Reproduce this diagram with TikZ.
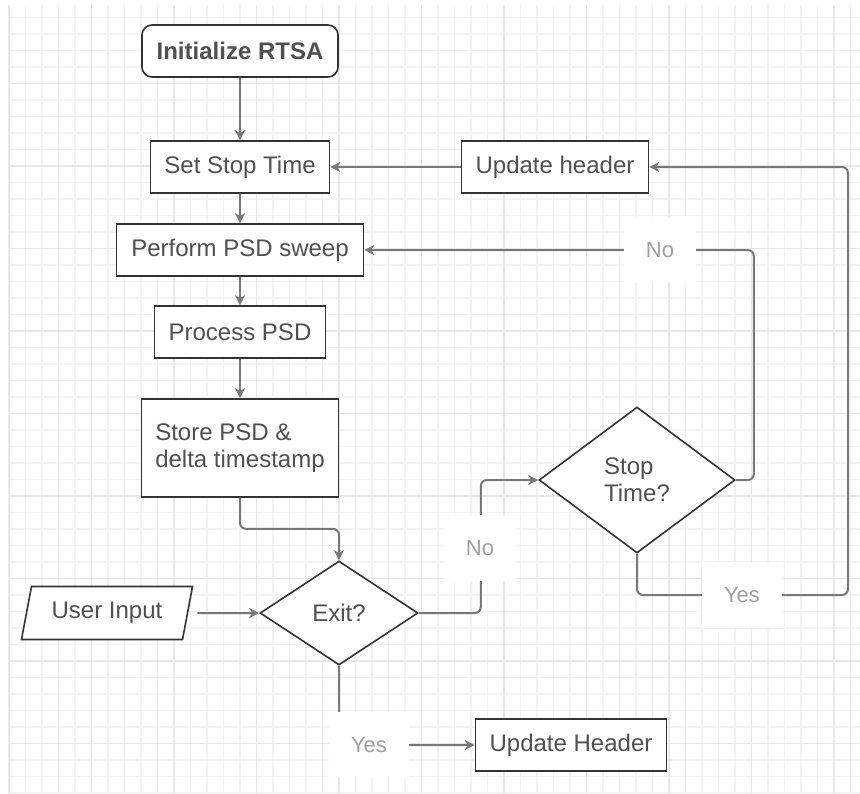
\documentclass[tikz,border=0pt]{standalone}
\usepackage{fontspec}
\setmainfont{Liberation Sans}
\usepackage{xcolor}
\usepackage{tikz}
\usetikzlibrary{shapes,arrows.meta,positioning,calc}
\definecolor{gridminor}{RGB}{243,243,243}
\definecolor{gridmajor}{RGB}{232,232,232}
\definecolor{boxline}{RGB}{51,51,51}
\definecolor{nodetext}{RGB}{80,80,80}
\definecolor{linegray}{RGB}{120,120,120}
\definecolor{labeltext}{RGB}{160,160,160}

\begin{document}
\begin{tikzpicture}[
    x=0.5pt, y=-0.5pt,
    font=\fontsize{12}{13.5}\selectfont,
    procbox/.style={rectangle, draw=boxline, line width=0.8pt, fill=white, text=nodetext, minimum height=26pt, inner sep=2pt},
    startbox/.style={procbox, rounded corners=5pt, minimum width=98pt},
    decision/.style={diamond, draw=boxline, line width=0.8pt, fill=white, text=nodetext, inner sep=0pt},
    inputbox/.style={trapezium, trapezium left angle=74, trapezium right angle=106, trapezium stretches body, draw=boxline, line width=0.8pt, fill=white, text=nodetext, minimum width=85.5pt, minimum height=26.5pt},
    lbl/.style={fill=white, text=labeltext, font=\fontsize{11}{13}\selectfont, inner xsep=11pt, minimum height=33pt},
    arrow/.style={-{Stealth[length=5pt, width=5pt, inset=1.5pt]}, line width=1pt, draw=linegray, rounded corners=3pt}
]
    \useasboundingbox (0,0) rectangle (860,793);

    % background grid
    \begin{scope}[shift={(9,1)}]
        \clip (-1,4) rectangle (851,792);
        \draw[gridminor, line width=0.8pt, step=8.25pt] (-1,4) grid (851,792);
        \draw[gridmajor, line width=0.8pt, step=41.25pt] (-1,4) grid (851,792);
    \end{scope}

    % main column
    \node[startbox] (init) at (240,51) {\textbf{Initialize RTSA}};
    \node[procbox, minimum width=89.5pt] (setstop) at (240,167) {Set Stop Time};
    \node[procbox, minimum width=93.5pt] (updhdr) at (555,167) {Update header};
    \node[procbox, minimum width=123.5pt] (sweep) at (240,250) {Perform PSD sweep};
    \node[procbox, minimum width=85.5pt] (process) at (240,332) {Process PSD};
    \node[procbox, minimum width=98.5pt, minimum height=49pt, align=left] (store) at (240,448) {Store PSD \&\\delta timestamp};

    % decisions
    \node[decision, minimum width=79pt, minimum height=52pt] (exit) at (339,613) {Exit?};
    \node[decision, minimum width=98pt, minimum height=73pt, align=left] (stoptime) at (637,480) {Stop\\Time?};
    \node[inputbox] (user) at (107,613) {User Input};
    \node[procbox, minimum width=95.5pt] (updhdrend) at (571,745) {Update Header};

    \coordinate (rightturn) at (848,595);

    \draw[arrow] (init) -- (setstop);
    \draw[arrow] (setstop) -- (sweep);
    \draw[arrow] (sweep) -- (process);
    \draw[arrow] (process) -- (store);
    \draw[arrow] (store.south) -- ++(0,31) -| (exit.north);
    \draw[arrow] (updhdr) -- (setstop);
    \draw[arrow, shorten <=4.5pt] (user) -- (exit);
    \draw[arrow] (exit.east) -- ++(62,0) |- (stoptime.west);
    \draw[arrow] (stoptime.east) -- ++(18,0) |- (sweep.east);
    \draw[arrow] (stoptime.south) |- (rightturn) |- (updhdr.east);
    \draw[arrow] (exit.south) |- (updhdrend.west);

    % branch labels
    \node[lbl] (nostop) at (660,250) {No};
    \node[lbl] (noexit) at (480,548) {No};
    \node[lbl] (yesstop) at (742,595) {Yes};
    \node[lbl] (yesexit) at (369,745) {Yes};
\end{tikzpicture}
\end{document}
